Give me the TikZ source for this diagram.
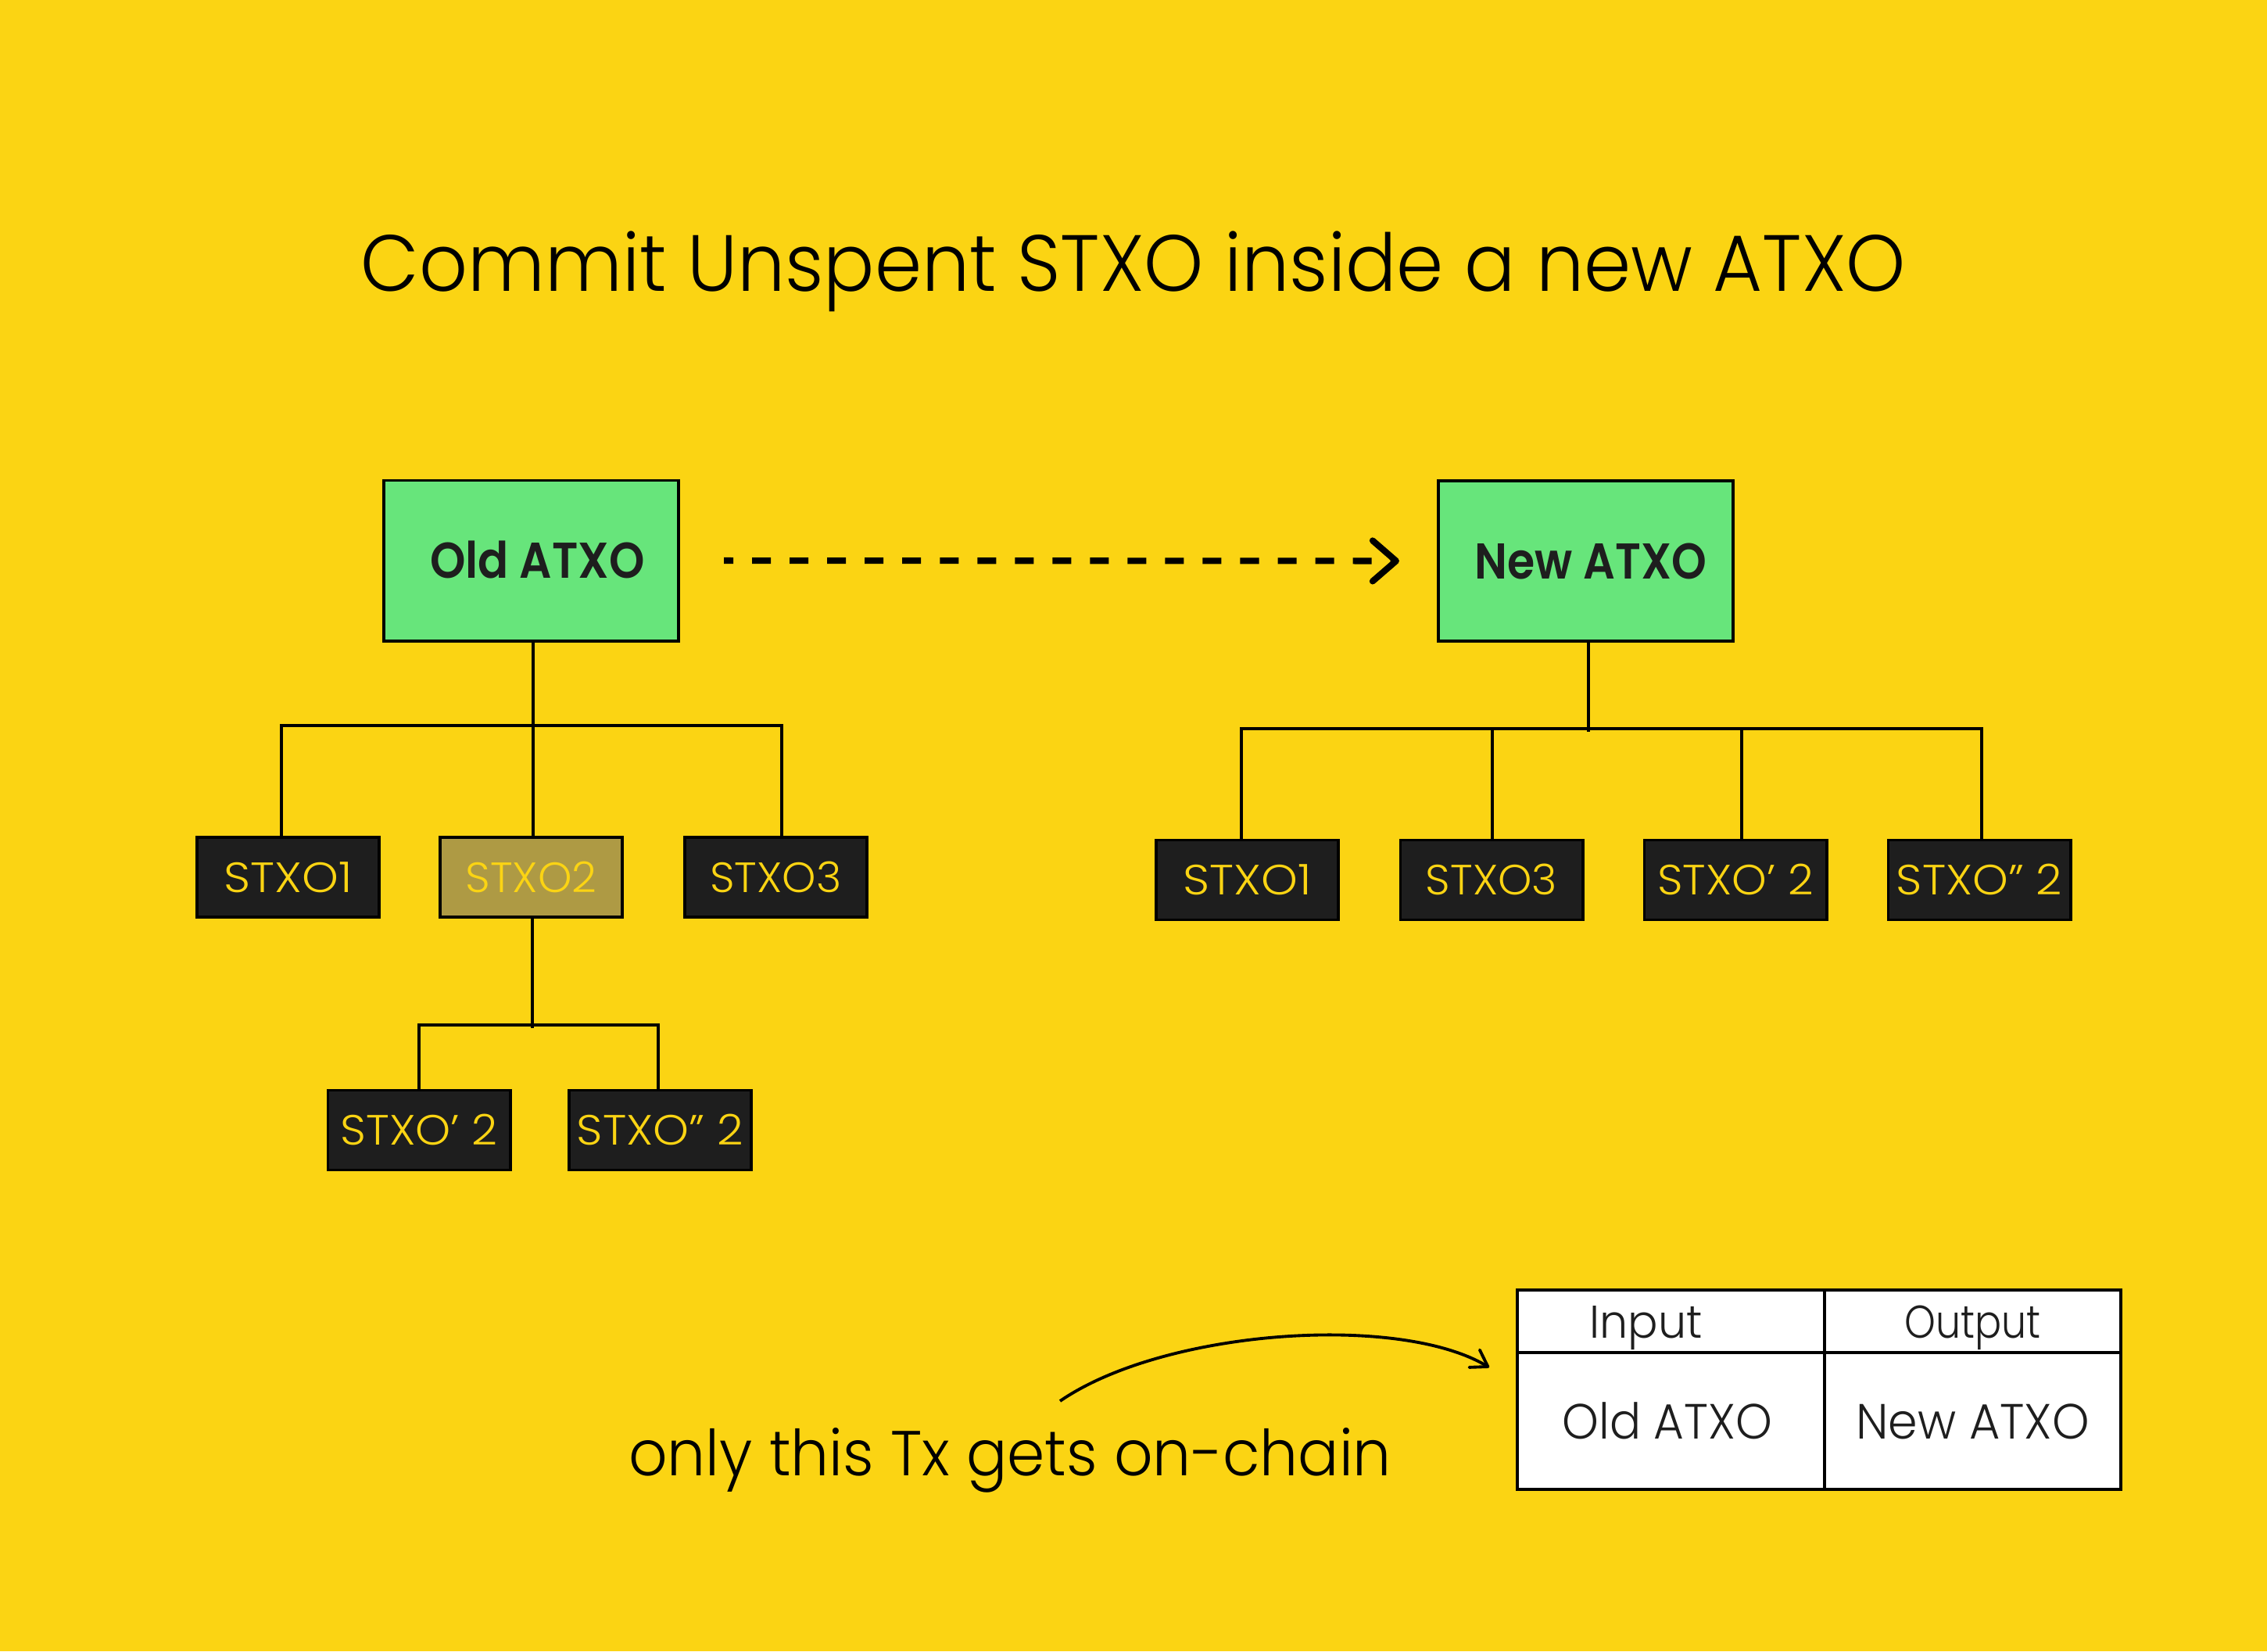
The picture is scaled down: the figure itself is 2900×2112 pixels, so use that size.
\documentclass[tikz,border=0pt]{standalone}
\usepackage{fontspec}
\usepackage{graphicx}
\usetikzlibrary{arrows.meta,calc}
\newfontfamily\thinf{Poppins Light}
\newfontfamily\stxof{Poppins Light}
\newfontfamily\atxof{Poppins SemiBold}
\newcommand\fitto[2]{\resizebox{#1}{\height}{#2}}
\definecolor{bg}{HTML}{FBD413}
\definecolor{grn}{HTML}{67E57B}
\definecolor{drk}{HTML}{1E1E1E}
\definecolor{olv}{HTML}{AE9A44}
\tikzset{
  atxo/.style={draw=black, line width=1.1pt, fill=grn, minimum width=3.77cm, minimum height=2.05cm,
    inner sep=0pt, text height=0.45cm, text depth=0pt, text=drk,
    font=\atxof\fontsize{18.3}{20}\selectfont},
  stxo/.style={draw=black, line width=1.1pt, fill=drk, minimum width=2.33cm, minimum height=1.02cm,
    inner sep=0pt, text height=0.38cm, text depth=0pt, text=bg,
    font=\stxof\fontsize{15.4}{18}\selectfont},
  conn/.style={line width=1pt, draw=black},
  tbl/.style={draw=black, line width=1pt, fill=white, inner sep=0pt, text depth=0pt, text=drk},
  thead/.style={tbl, minimum height=0.8cm, text height=0.42cm, font=\thinf\fontsize{16.7}{19}\selectfont},
  tbody/.style={tbl, minimum height=1.75cm, text height=0.45cm, font=\thinf\fontsize{18}{21}\selectfont},
}
\begin{document}
\begin{tikzpicture}[x=0.01cm, y=-0.01cm]
\fill[bg] (0,0) rectangle (2900,2112);
\useasboundingbox (0,0) rectangle (2900,2112);

% title
\node[anchor=base, font=\thinf\fontsize{29}{32}\selectfont, text=black] (title) at (1450,372)
  {\fitto{19.75cm}{Commit Unspent STXO inside a new ATXO}};

% top boxes
\node[atxo] (old) at (679.5,717) {\hspace*{0.16cm}\fitto{2.74cm}{Old ATXO}};
\node[atxo] (new) at (2028.5,717.5) {\hspace*{0.13cm}\fitto{2.96cm}{New ATXO}};

% old tree children
\node[stxo] (c1) at (368.5,1122) {\fitto{1.64cm}{STXO1}};
\node[stxo, fill=olv] (c2) at (679.5,1122) {\fitto{1.68cm}{STXO2}};
\node[stxo] (c3) at (992.5,1122) {\fitto{1.68cm}{STXO3}};
\node[stxo] (g1) at (536,1445.5) {\fitto{2.01cm}{STXO’ 2}};
\node[stxo] (g2) at (844.5,1445.5) {\fitto{2.13cm}{STXO” 2}};

% new tree children
\node[stxo] (n1) at (1595.5,1125.5) {\fitto{1.64cm}{STXO1}};
\node[stxo] (n2) at (1908,1125.5) {\fitto{1.68cm}{STXO3}};
\node[stxo] (n3) at (2220,1125.5) {\fitto{1.99cm}{STXO’ 2}};
\node[stxo] (n4) at (2532,1125.5) {\fitto{2.12cm}{STXO” 2}};

% old tree connectors
\draw[conn] ($(old.south)+(2.5,0)$) -- ($(c2.north)+(2.5,0)$);
\draw[conn] ($(c1.north)+(-8.5,0)$) |- ($(c3.north)+(7.5,-141)$) -- ($(c3.north)+(7.5,0)$);
\draw[conn] ($(c2.south)+(1.5,0)$) -- ($(c2.south)+(1.5,140)$);
\draw[conn] (g1.north) |- ($(g2.north)+(-2.5,-81.5)$) -- ($(g2.north)+(-2.5,0)$);

% new tree connectors
\draw[conn] ($(new.south)+(3.5,0)$) -- ++(0,114);
\draw[conn] ($(n1.north)+(-7.5,0)$) |- ($(n4.north)+(3,-140.5)$) -- ($(n4.north)+(3,0)$);
\draw[conn] ($(n2.north)+(1,0)$) -- ++(0,-140.5);
\draw[conn] ($(n3.north)+(8,0)$) -- ++(0,-140.5);

% dashed arrow
\draw[line width=2.3pt, dash pattern=on 0.24cm off 0.24cm, dash phase=0.12cm,
  -{Straight Barb[length=0.3cm, width=0.52cm, round]},
  shorten <=0.56cm, shorten >=0.48cm] (old.east) -- (new.west);

% table
\node[thead, minimum width=3.93cm] (tin) at (2137.5,1690) {\hspace*{-0.64cm}\fitto{1.44cm}{Input}};
\node[thead, minimum width=3.79cm] (tout) at (2523.5,1690) {\fitto{1.74cm}{Output}};
\node[tbody, minimum width=3.93cm] (told) at (2137.5,1817.5) {\hspace*{-0.09cm}\fitto{2.68cm}{Old ATXO}};
\node[tbody, minimum width=3.79cm] (tnew) at (2523.5,1817.5) {\fitto{2.98cm}{New ATXO}};

% note and curved arrow
\node[anchor=base, font=\thinf\fontsize{23.1}{26}\selectfont, text=black] (note) at (1292,1887)
  {\fitto{9.75cm}{only this Tx gets on-chain}};
\coordinate (cs) at (1356,1792);
\coordinate (ce) at (1905,1749);
\draw[line width=1.1pt, -{Straight Barb[length=0.2cm, width=0.26cm, round]}]
  (cs) .. controls (1490,1700) and (1790,1680) .. (ce);
\end{tikzpicture}
\end{document}
